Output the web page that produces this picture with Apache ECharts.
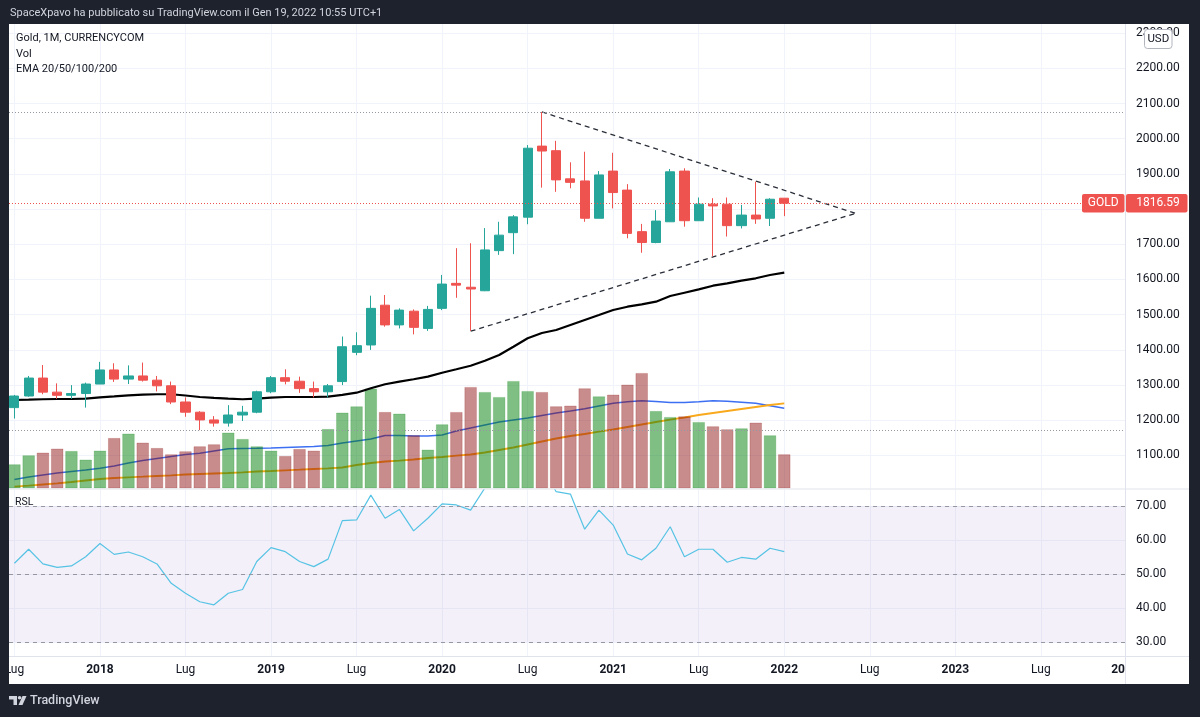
<!DOCTYPE html>
<html><head><meta charset="utf-8">
<script src="https://cdn.jsdelivr.net/npm/echarts@6/dist/echarts.min.js"></script>
<style>html,body{margin:0;padding:0;background:#1e222d;overflow:hidden}#c{width:1200px;height:717px}</style>
</head><body><div id="c"></div>
<script>
// ---------- DATA ----------
const months = ['2017-07','2017-08','2017-09','2017-10','2017-11','2017-12',
'2018-01','2018-02','2018-03','2018-04','2018-05','2018-06','2018-07','2018-08','2018-09','2018-10','2018-11','2018-12',
'2019-01','2019-02','2019-03','2019-04','2019-05','2019-06','2019-07','2019-08','2019-09','2019-10','2019-11','2019-12',
'2020-01','2020-02','2020-03','2020-04','2020-05','2020-06','2020-07','2020-08','2020-09','2020-10','2020-11','2020-12',
'2021-01','2021-02','2021-03','2021-04','2021-05','2021-06','2021-07','2021-08','2021-09','2021-10','2021-11','2021-12',
'2022-01'];
const opens  = [1236,1269,1320,1280,1271,1276, 1303,1343,1317,1326,1314,1298,1252,1223,1201,1192,1215,1223,
 1281,1321,1311,1290,1281,1310,1393,1414,1527,1471,1510,1461, 1518,1589,1578,1568,1682,1733,1777,1979,1966,1886,1880,1774,
 1908,1854,1736,1705,1764,1908,1767,1814,1814,1753,1783,1774, 1831];
const closes = [1269,1320,1280,1271,1276,1303, 1343,1317,1326,1314,1298,1252,1223,1201,1192,1215,1223,1281,
 1321,1311,1290,1281,1298,1409,1412,1518,1471,1513,1464,1515, 1587,1584,1573,1684,1726,1778,1973,1965,1883,1876,1774,1897,
 1847,1731,1705,1766,1906,1767,1814,1809,1753,1783,1772,1828, 1816.59];
const lows   = [1205,1267,1274,1261,1261,1236, 1303,1309,1303,1310,1282,1246,1210,1172,1182,1182,1198,1220,
 1277,1302,1278,1265,1265,1300,1385,1400,1466,1461,1444,1454, 1513,1548,1454,1567,1670,1672,1757,1861,1849,1859,1764,1774,
 1802,1717,1676,1703,1764,1750,1767,1666,1722,1745,1758,1752, 1780];
const highs  = [1272,1326,1357,1305,1300,1307, 1366,1362,1356,1364,1326,1310,1265,1226,1212,1243,1241,1284,
 1326,1345,1324,1310,1303,1438,1450,1554,1556,1518,1515,1525, 1613,1689,1703,1746,1764,1783,1982,2076,1994,1933,1963,1908,
 1960,1871,1758,1797,1914,1916,1833,1831,1833,1812,1878,1831, 1831];
const volume = [24.3,33.3,36,40,37.6,29, 38,50.6,55,46,40.6,34.3,37.3,42.3,44.3,56,49.6,42.3,
 38,32.6,39.6,38,59.6,76,82.3,100,76.6,75,53.3,39, 64.3,76.6,101.6,96.6,91.6,107.6,97.6,96.6,82.3,83,100.3,92.3,
 94,104,115.6,77.6,71.6,72.3,66.6,62.3,59.3,60.3,66,53.3, 34.3];
const volMaFast = [9,11.5,13.5,15.5,17,18.5, 20.2,22.5,25.5,28,30,32,34,35.2,37.5,39.8,40,40.2,
 40.5,41,41.5,42,43,45.5,47.5,49.5,53,53,52.5,52.5, 53.5,57.5,60.5,63.5,66.5,68.5,70.5,73,75.5,77.5,79.8,82.5,
 85.2,86.8,87.8,87,86,86,86.7,87.8,87.2,86.2,85.2,82.8, 80.2];
const volMaSlow = [1.8,2.8,4,5.2,6.5,8, 9.5,10.5,11.2,11.8,12.5,13.2,14,14.5,15,15.5,16.2,17,
 17.5,18.2,18.8,19.5,20.2,21,23.5,25.5,27,27.8,29,30.5, 31.5,32.8,34,36,38.5,41,44,47,50,52.5,54.5,56.8,
 59,61.5,64,66.5,68.8,71,73.5,75.5,77.5,79.5,81.5,83.5, 85.2];
const ema20 = [1257.7,1258.5,1259.7,1260.5,1260.5,1261.4, 1265.3,1268,1271,1272.7,1274,1274,1270.5,1266.2,1263.4,1261.4,1259.7,1261.4,
 1264.2,1266.2,1266.2,1266.2,1267,1272,1278.4,1291,1302.3,1309.7,1316.5,1324, 1335.2,1345,1355,1369,1385.5,1409,1433,1448,1456.5,1470.7,1485,1499,
 1513.3,1522.7,1529.5,1537,1553,1562.5,1572,1582.4,1589.2,1596.6,1603.4,1612.8, 1619.3];
const rsi = [53.2,57.3,53.0,52.0,52.4,55.1, 59.0,55.8,56.5,55.1,53.0,47.3,44.4,41.9,41.0,44.4,45.5,53.7,
 57.8,56.6,53.7,52.2,54.4,65.7,65.9,73.2,66.4,69.0,62.7,66.4, 70.6,70.3,68.8,75.3,77.5,79.0,85.0,81.5,74.2,73.5,63.2,68.8,
 64.4,55.9,54.2,57.6,63.9,55.1,57.3,57.3,53.5,54.9,54.4,57.6, 56.6];
const upperTrend = [['2020-08',2076],['2022-06',1788]];
const lowerTrend = [['2020-03',1453],['2022-06',1788]];
const levelLines = [2075, 1172];
const lastPrice = 1816.59;
const priceTicks = [1100,1200,1300,1400,1500,1600,1700,1800,1900,2000,2100,2200,2300];
const rsiTicks = [30,40,50,60,70];
const rsiLevels = [30,50,70];
const timeTicks = ['2017-07','2018-01','2018-07','2019-01','2019-07','2020-01','2020-07','2021-01','2021-07','2022-01','2022-07','2023-01','2023-07'];
const monthName = 'Lug';

// ---------- BUILD ----------
function mi(s){const p=s.split('-').map(Number);return (p[0]-2018)*12+p[1]-1;}
const UP='#26a69a', DOWN='#ef5350';
const VUP='rgba(0,128,10,0.5)', VDOWN='rgba(140,10,10,0.47)';
const FONT='Roboto, "Liberation Sans", sans-serif';
const X0=-6.38, X1=71.9;

const candleData = months.map((s,i)=>[mi(s),opens[i],closes[i],lows[i],highs[i]]);
const volData = months.map((s,i)=>({value:[mi(s),volume[i]],itemStyle:{color: closes[i]>=opens[i]?VUP:VDOWN, borderColor: closes[i]>=opens[i]?'rgba(0,128,10,0.2)':'rgba(140,10,10,0.2)'}}));
const pair = (arr)=>months.map((s,i)=>[mi(s),arr[i]]);
const tickVals = timeTicks.map(mi);

const xBase = {type:'value',min:X0,max:X1,axisLine:{show:false},
  axisTick:{show:false,customValues:tickVals},
  splitLine:{show:true,lineStyle:{color:'#f0f3fa',width:1}}};

const chart = echarts.init(document.getElementById('c'),null,{renderer:'canvas'});
const option = {
  animation:false,
  backgroundColor:'#ffffff',
  grid:[{left:9,top:24,width:1116,height:464.5},{left:9,top:489.5,width:1116,height:166.5}],
  xAxis:[
    Object.assign({},xBase,{gridIndex:0,axisLabel:{show:false,customValues:tickVals}}),
    Object.assign({},xBase,{gridIndex:1,axisLabel:{show:true,customValues:tickVals,margin:8,color:'#131722',fontSize:12,fontFamily:FONT,
      formatter:v=> (Math.round(v)%12===0)?('{b|'+(2018+Math.round(v)/12)+'}'):monthName,
      rich:{b:{fontWeight:'bold',fontSize:12,color:'#131722',fontFamily:FONT}}}})
  ],
  yAxis:[
    {type:'value',gridIndex:0,position:'right',min:1006.2,max:2325.9,axisLine:{show:false},
     axisTick:{show:false,customValues:priceTicks},
     axisLabel:{customValues:priceTicks,margin:11,color:'#131722',fontSize:12,fontFamily:FONT,formatter:v=>v.toFixed(2)},
     splitLine:{show:true,lineStyle:{color:'#f0f3fa'}}},
    {type:'value',gridIndex:0,min:0,max:464.5,show:false,splitLine:{show:false}},
    {type:'value',gridIndex:1,position:'right',min:25.98,max:74.84,axisLine:{show:false},
     axisTick:{show:false,customValues:rsiTicks},
     axisLabel:{customValues:rsiTicks,margin:11,color:'#131722',fontSize:12,fontFamily:FONT,formatter:v=>v.toFixed(2)},
     splitLine:{show:true,lineStyle:{color:'#f0f3fa'}}}
  ],
  series:[
    {type:'line',name:'VolMA fast',xAxisIndex:0,yAxisIndex:1,data:pair(volMaFast),symbol:'none',z:1,
     lineStyle:{color:'#3d6ff2',width:1.4}},
    {type:'line',name:'VolMA slow',xAxisIndex:0,yAxisIndex:1,data:pair(volMaSlow),symbol:'none',z:1,
     lineStyle:{color:'#f9a91c',width:1.8}},
    {type:'bar',name:'Vol',xAxisIndex:0,yAxisIndex:1,data:volData,barWidth:12.6,z:2,itemStyle:{borderWidth:1}},
    {type:'line',name:'EMA',xAxisIndex:0,yAxisIndex:0,data:pair(ema20),symbol:'none',z:3,
     lineStyle:{color:'#000000',width:2.2}},
    {type:'line',name:'trendU',xAxisIndex:0,yAxisIndex:0,data:upperTrend.map(p=>[mi(p[0]),p[1]]),symbol:'none',z:3,
     lineStyle:{color:'#2a2e39',width:1.3,type:[5,4]}},
    {type:'line',name:'trendL',xAxisIndex:0,yAxisIndex:0,data:lowerTrend.map(p=>[mi(p[0]),p[1]]),symbol:'none',z:3,
     lineStyle:{color:'#2a2e39',width:1.3,type:[5,4]}},
    {type:'candlestick',name:'Gold',xAxisIndex:0,yAxisIndex:0,data:candleData,barWidth:9.6,z:4,
     itemStyle:{color:UP,color0:DOWN,borderColor:UP,borderColor0:DOWN,borderWidth:1},
     markLine:{silent:true,symbol:['none','none'],label:{show:false},animation:false,
       data:levelLines.map(v=>({yAxis:v,lineStyle:{color:'#9598a1',width:1,type:[1,2]}}))
         .concat([{yAxis:lastPrice,lineStyle:{color:'#ef5350',width:1,type:[1,2]}}])}},
    {type:'line',name:'RSL',xAxisIndex:1,yAxisIndex:2,data:pair(rsi),symbol:'none',z:3,
     lineStyle:{color:'#56c3e4',width:1.2},
     markArea:{silent:true,itemStyle:{color:'rgba(126,87,194,0.09)'},data:[[{yAxis:rsiLevels[0]},{yAxis:rsiLevels[2]}]]},
     markLine:{silent:true,symbol:['none','none'],label:{show:false},animation:false,
       lineStyle:{color:'#9598a1',width:1,type:[4,4]},data:rsiLevels.map(v=>({yAxis:v}))}}
  ]
};
chart.setOption(option);

const py = chart.convertToPixel({yAxisIndex:0}, lastPrice);
const dark='#1e222d', lite='#d1d4dc';
const g = [
  {type:'rect',z:100,shape:{x:0,y:0,width:1200,height:24},style:{fill:dark},silent:true},
  {type:'rect',z:100,shape:{x:0,y:684,width:1200,height:33},style:{fill:dark},silent:true},
  {type:'rect',z:100,shape:{x:0,y:0,width:9,height:717},style:{fill:dark},silent:true},
  {type:'rect',z:100,shape:{x:1189,y:0,width:11,height:717},style:{fill:dark},silent:true},
  {type:'text',z:101,x:10,y:13,style:{text:'SpaceXpavo ha pubblicato su TradingView.com il Gen 19, 2022 10:55 UTC+1',fill:lite,font:'11px '+FONT,textVerticalAlign:'middle'}},
  {type:'text',z:101,x:30,y:701,style:{text:'TradingView',fill:lite,font:'500 12.5px '+FONT,textVerticalAlign:'middle'}},
  {type:'polygon',z:101,shape:{points:[[9,696],[17,696],[17,705],[13.5,705],[13.5,699.5],[9,699.5]]},style:{fill:lite}},
  {type:'circle',z:101,shape:{cx:19.6,cy:697.8,r:1.8},style:{fill:lite}},
  {type:'polygon',z:101,shape:{points:[[22.5,696],[26.5,696],[22.5,705],[18.5,705]]},style:{fill:lite}},
  {type:'line',z:60,shape:{x1:1125.5,y1:24,x2:1125.5,y2:684},style:{stroke:'#e0e3eb',lineWidth:1}},
  {type:'line',z:60,shape:{x1:9,y1:489,x2:1189,y2:489},style:{stroke:'#e0e3eb',lineWidth:1}},
  {type:'line',z:60,shape:{x1:9,y1:656.5,x2:1189,y2:656.5},style:{stroke:'#e0e3eb',lineWidth:1}},
  {type:'text',z:61,x:16,y:38,style:{text:'Gold, 1M, CURRENCYCOM',fill:'#131722',font:'11px '+FONT,textVerticalAlign:'middle'}},
  {type:'text',z:61,x:16,y:54,style:{text:'Vol',fill:'#131722',font:'11px '+FONT,textVerticalAlign:'middle'}},
  {type:'text',z:61,x:16,y:69,style:{text:'EMA 20/50/100/200',fill:'#131722',font:'11px '+FONT,textVerticalAlign:'middle'}},
  {type:'text',z:61,x:15,y:502,style:{text:'RSL',fill:'#131722',font:'10.5px '+FONT,textVerticalAlign:'middle'}},
  {type:'text',z:61,x:1125,y:670,style:{text:'20',fill:'#131722',font:'bold 12px '+FONT,textAlign:'right',textVerticalAlign:'middle'}},
  {type:'rect',z:62,shape:{x:1144.5,y:29.5,width:27.5,height:19,r:3},style:{fill:'#ffffff',stroke:'#b2b5be',lineWidth:1}},
  {type:'text',z:63,x:1158.3,y:39.2,style:{text:'USD',fill:'#131722',font:'11.5px '+FONT,textAlign:'center',textVerticalAlign:'middle'}},
  {type:'rect',z:62,shape:{x:1082,y:py-9.3,width:42.5,height:18.6,r:2},style:{fill:'#ef5350'}},
  {type:'text',z:63,x:1103.2,y:py,style:{text:'GOLD',fill:'#ffffff',font:'12px '+FONT,textAlign:'center',textVerticalAlign:'middle'}},
  {type:'rect',z:62,shape:{x:1126,y:py-9.3,width:61.5,height:18.6,r:2},style:{fill:'#ef5350'}},
  {type:'text',z:63,x:1158,y:py,style:{text:lastPrice.toFixed(2),fill:'#ffffff',font:'12px '+FONT,textAlign:'center',textVerticalAlign:'middle'}}
];
chart.setOption({graphic:{elements:g}});
</script></body></html>
